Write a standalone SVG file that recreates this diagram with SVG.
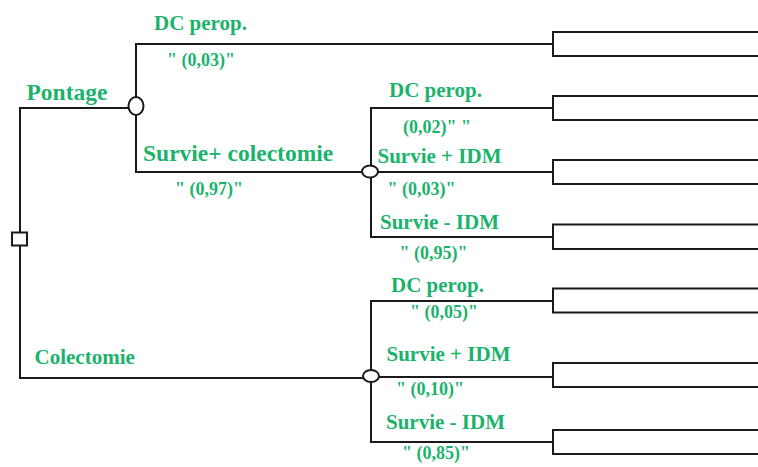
<svg xmlns="http://www.w3.org/2000/svg" width="758" height="467" viewBox="0 0 758 467">
  <style>
    .ln { fill: none; stroke: #1a1a1a; stroke-width: 2; }
    .nd { fill: #ffffff; stroke: #1a1a1a; stroke-width: 2; }
    .lb { font-family: "Liberation Serif", "Times New Roman", serif; font-weight: bold; fill: #1bb36c; }
    .big { font-size: 23.5px; }
    .mid { font-size: 21px; }
    .pr { font-size: 18px; }
  </style>
  <rect width="758" height="467" fill="#ffffff"/>

  <!-- branches of the tree -->
  <g id="connectors">
    <!-- root decision to its two options -->
    <polyline class="ln" points="136,108 20,108 20,378 371,378"/>
    <!-- Pontage chance node branches -->
    <polyline class="ln" points="553,44 136,44 136,172 371,172"/>
    <!-- Survie+ colectomie chance node branches -->
    <polyline class="ln" points="553,108 371,108 371,237 553,237"/>
    <line class="ln" x1="371" y1="172" x2="553" y2="172"/>
    <!-- Colectomie chance node branches -->
    <polyline class="ln" points="553,301 371,301 371,442 553,442"/>
    <line class="ln" x1="371" y1="377" x2="553" y2="377"/>
  </g>

  <!-- decision node -->
  <g id="decision">
    <rect class="nd" x="12" y="232.5" width="15" height="13"/>
  </g>

  <!-- chance nodes -->
  <g id="chance-pontage">
    <ellipse class="nd" cx="136" cy="106" rx="7.5" ry="9"/>
  </g>
  <g id="chance-survie">
    <ellipse class="nd" cx="370" cy="171.5" rx="8" ry="6"/>
  </g>
  <g id="chance-colectomie">
    <ellipse class="nd" cx="371" cy="376" rx="8" ry="6"/>
  </g>

  <!-- terminal outcome boxes -->
  <g id="outcome-1"><rect class="nd" x="553" y="32" width="220" height="24"/></g>
  <g id="outcome-2"><rect class="nd" x="553" y="96" width="220" height="24"/></g>
  <g id="outcome-3"><rect class="nd" x="553" y="160" width="220" height="24"/></g>
  <g id="outcome-4"><rect class="nd" x="553" y="224.5" width="220" height="24.5"/></g>
  <g id="outcome-5"><rect class="nd" x="553" y="288.5" width="220" height="24"/></g>
  <g id="outcome-6"><rect class="nd" x="553" y="363" width="220" height="24"/></g>
  <g id="outcome-7"><rect class="nd" x="553" y="430" width="220" height="24"/></g>

  <!-- labels -->
  <g id="labels">
    <text class="lb big" x="26.5" y="99.5">Pontage</text>
    <text class="lb mid" x="34.5" y="364">Colectomie</text>

    <text class="lb mid" x="154" y="29.5">DC perop.</text>
    <text class="lb pr" x="167" y="65.5">" (0,03)"</text>
    <text class="lb big" x="143" y="161">Survie+ colectomie</text>
    <text class="lb pr" x="175" y="195">" (0,97)"</text>

    <text class="lb mid" x="389" y="96.5">DC perop.</text>
    <text class="lb pr" x="403" y="132.5">(0,02)" "</text>
    <text class="lb mid" x="377.5" y="162.5">Survie + IDM</text>
    <text class="lb pr" x="387.5" y="195">" (0,03)"</text>
    <text class="lb mid" x="380" y="228.5">Survie - IDM</text>
    <text class="lb pr" x="399.5" y="258.5">" (0,95)"</text>

    <text class="lb mid" x="391" y="291.5">DC perop.</text>
    <text class="lb pr" x="410" y="318">" (0,05)"</text>
    <text class="lb mid" x="386.5" y="361">Survie + IDM</text>
    <text class="lb pr" x="396" y="395">" (0,10)"</text>
    <text class="lb mid" x="386" y="428.5">Survie - IDM</text>
    <text class="lb pr" x="402" y="459">" (0,85)"</text>
  </g>
</svg>
